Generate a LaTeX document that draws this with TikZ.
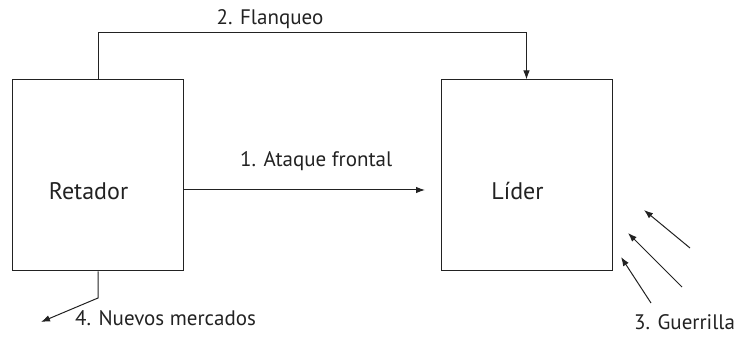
\documentclass[tikz,border=0pt]{standalone}
\usepackage{fontspec}
\setmainfont{PT Sans}
\usetikzlibrary{arrows.meta}
\definecolor{ink}{HTML}{222222}
\begin{document}
\begin{tikzpicture}[x=1pt,y=-1pt,
  boxst/.style={draw=ink, line width=1pt, minimum width=171pt, minimum height=191pt, inner sep=0pt},
  boxtxt/.style={text=ink, font=\fontsize{24}{28}\selectfont, inner sep=0pt},
  lbl/.style={text=ink, font=\fontsize{21}{24}\selectfont, inner sep=0pt},
  arr/.style={draw=ink, line width=1pt, -{Latex[length=9pt,width=6.5pt]}}]
\useasboundingbox (0,0) rectangle (740,347);
\node[boxst] (ret) at (97.5,175.5) {};
\node[boxst] (lid) at (526.5,175.5) {};
\node[boxtxt, anchor=base] (rett) at (88.5,200) {Retador};
\node[boxtxt, anchor=base] (lidt) at (517.5,200) {Líder};
% flanqueo
\coordinate (f1) at (98,33);
\coordinate (f2) at (526.5,33);
\draw[arr] (ret.north -| f1) -- (f1) -- (f2) -- (lid.north);
\node[lbl, anchor=base] (fl) at (270,25) {2. Flanqueo};
% ataque frontal
\coordinate (a2) at (425,190);
\draw[arr] (ret.east |- a2) -- (a2);
\node[lbl, anchor=base west] (at) at (240,167) {1. Ataque frontal};
% nuevos mercados
\coordinate (n1) at (98,298);
\coordinate (n2) at (41,322);
\draw[arr] (ret.south -| n1) -- (n1) -- (n2);
\node[lbl, anchor=base west] (nm) at (75,326) {4. Nuevos mercados};
% guerrilla
\coordinate (g1s) at (690,248); \coordinate (g1e) at (644,210);
\coordinate (g2s) at (682,287); \coordinate (g2e) at (628,233);
\coordinate (g3s) at (651,303); \coordinate (g3e) at (621,257);
\draw[arr] (g1s) -- (g1e);
\draw[arr] (g2s) -- (g2e);
\draw[arr] (g3s) -- (g3e);
\node[lbl, anchor=base west] (gu) at (634,330) {3. Guerrilla};
\end{tikzpicture}
\end{document}
